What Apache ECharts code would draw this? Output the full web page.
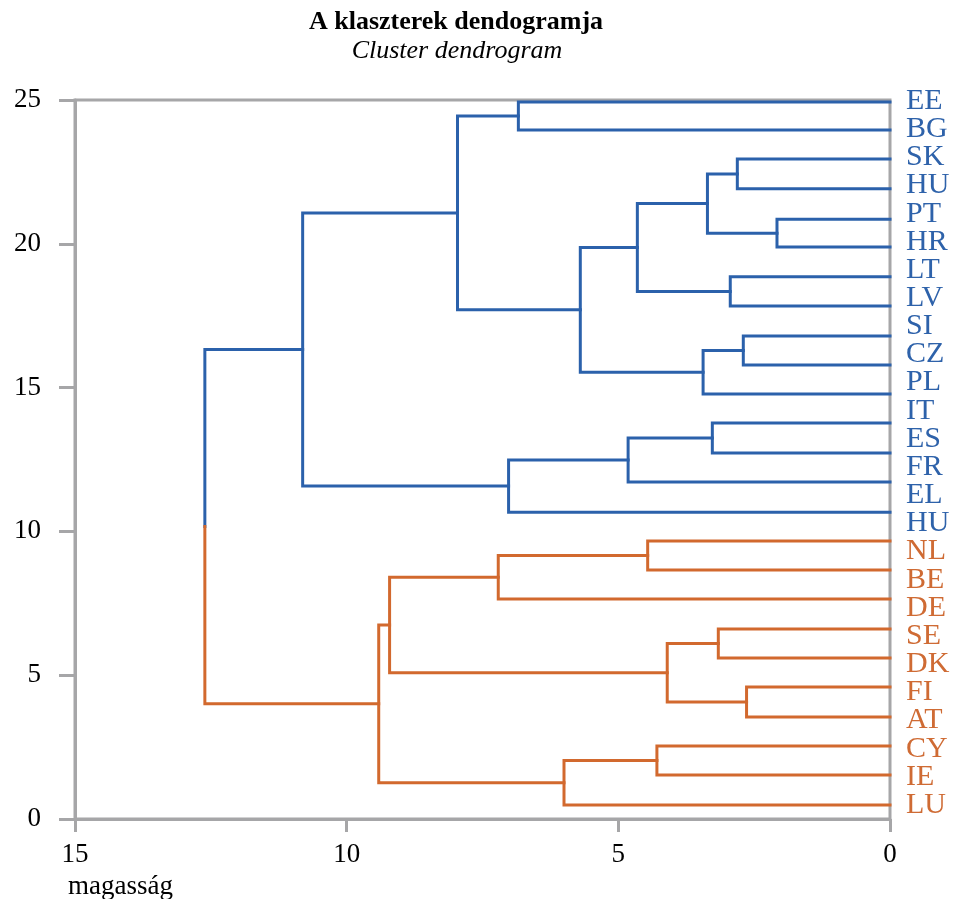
<!DOCTYPE html>
<html>
<head>
<meta charset="utf-8">
<script src="https://cdn.jsdelivr.net/npm/echarts@6/dist/echarts.min.js"></script>
<style>
html,body{margin:0;padding:0;background:#fff;}
#chart{width:955px;height:899px;}
</style>
</head>
<body>
<div id="chart"></div>
<script>
// ---- data ----
const leafLabels = ['EE','BG','SK','HU','PT','HR','LT','LV','SI','CZ','PL','IT','ES','FR','EL','HU','NL','BE','DE','SE','DK','FI','AT','CY','IE','LU'];
const labelGroups = [0,0,0,0,0,0,0,0,0,0,0,0,0,0,0,0,1,1,1,1,1,1,1,1,1,1];
// vertical positions of the 25 drawn leaf lines
const leafY = [24.93,23.96,22.95,21.91,20.85,19.89,18.85,17.84,16.79,15.79,14.78,13.77,12.73,11.72,10.67,
               9.67,8.66,7.65,6.61,5.60,4.59,3.55,2.54,1.53,0.49];
// merges: [childA, childB, height]; node ids: leaves 0..24, merges 25..
const merges = [
  [0,1,6.84],    //25
  [2,3,2.81],    //26
  [4,5,2.08],    //27
  [26,27,3.36],  //28
  [6,7,2.94],    //29
  [28,29,4.65],  //30
  [8,9,2.70],    //31
  [31,10,3.44],  //32
  [30,32,5.70],  //33
  [25,33,7.96],  //34
  [11,12,3.27],  //35
  [35,13,4.82],  //36
  [36,14,7.02],  //37
  [34,37,10.81], //38
  [15,16,4.46],  //39
  [39,17,7.21],  //40
  [18,19,3.16],  //41
  [20,21,2.64],  //42
  [41,42,4.10],  //43
  [40,43,9.21],  //44
  [22,23,4.29],  //45
  [45,24,6.00],  //46
  [44,46,9.41],  //47
  [38,47,12.61]  //48 root
];
const mergeGroups = [0,0,0,0,0,0,0,0,0,0,0,0,0,0,1,1,1,1,1,1,1,1,1,-1];
const xTicks = [0,5,10,15];
const yTicks = [0,5,10,15,20,25];

// ---- styles ----
const COLORS = ['#2b61ab','#d2692e'];
const TEXT_COLORS = ['#2e62aa','#cf6b34'];
const GRAY = '#a6a6a8';
const FONT = '"Liberation Serif","Times New Roman",serif';

// ---- build dendrogram ----
const nodes = leafY.map(y => ({h:0, y:y}));
merges.forEach(m => nodes.push({h:m[2], y:(nodes[m[0]].y + nodes[m[1]].y)/2}));

function lineSeries(data, color){
  return {
    type:'line', xAxisIndex:0, yAxisIndex:0, data:data,
    showSymbol:false, symbol:'none', animation:false, silent:true,
    lineStyle:{color:color, width:3, join:'miter', cap:'square'}
  };
}
const series = [];
merges.forEach((m, i) => {
  const a = nodes[m[0]], b = nodes[m[1]], h = m[2];
  const g = mergeGroups[i];
  if (g >= 0) {
    series.push(lineSeries([[a.h,a.y],[h,a.y],[h,b.y],[b.h,b.y]], COLORS[g]));
  } else {
    const split = (leafY[14] + leafY[15]) / 2;
    series.push(lineSeries([[a.h,a.y],[h,a.y],[h,split]], COLORS[0]));
    series.push(lineSeries([[h,split],[h,b.y],[b.h,b.y]], COLORS[1]));
  }
});

const chart = echarts.init(document.getElementById('chart'), null, {renderer:'canvas'});
chart.setOption({
  animation:false,
  backgroundColor:'#ffffff',
  title:[
    {text:'A klaszterek dendogramja', left:451, top:4, textAlign:'center',
     textStyle:{fontFamily:FONT, fontSize:26, fontWeight:'bold', color:'#000'}},
    {text:'Cluster dendrogram', left:452, top:33, textAlign:'center',
     textStyle:{fontFamily:FONT, fontSize:26, fontStyle:'italic', fontWeight:'normal', color:'#000'}},
    {text:'magasság', left:63, top:868,
     textStyle:{fontFamily:FONT, fontSize:27, fontWeight:'normal', color:'#000'}}
  ],
  grid:[
    {left:75, right:65, top:100, bottom:80, show:true, borderColor:GRAY, borderWidth:3, containLabel:false},
    {left:75, right:65, top:101, bottom:94, show:false, containLabel:false}
  ],
  xAxis:[
    {type:'value', gridIndex:0, inverse:true, min:0, max:15, interval:5, position:'bottom',
     axisLine:{show:true, onZero:false, lineStyle:{color:GRAY, width:3}},
     axisTick:{show:true, inside:false, length:13, lineStyle:{color:GRAY, width:3}},
     splitLine:{show:false},
     axisLabel:{fontFamily:FONT, fontSize:27, color:'#000', margin:22,
       formatter:v => xTicks.indexOf(v) >= 0 ? String(v) : ''}},
    {type:'value', gridIndex:1, show:false, min:0, max:1}
  ],
  yAxis:[
    {type:'value', gridIndex:0, min:0, max:25, interval:5, position:'left',
     axisLine:{show:true, onZero:false, lineStyle:{color:GRAY, width:3}},
     axisTick:{show:true, inside:false, length:16, lineStyle:{color:GRAY, width:3}},
     splitLine:{show:false},
     axisLabel:{fontFamily:FONT, fontSize:27, color:'#000', margin:34,
       formatter:v => yTicks.indexOf(v) >= 0 ? String(v) : ''}},
    {type:'category', gridIndex:1, position:'right', inverse:true, boundaryGap:false,
     data:leafLabels.map((l, i) => ({value:l, textStyle:{color:TEXT_COLORS[labelGroups[i]]}})),
     axisLine:{show:false}, axisTick:{show:false}, splitLine:{show:false},
     axisLabel:{interval:0, fontFamily:FONT, fontSize:30, margin:16, color:'#2e62aa'}}
  ],
  series:series
});
</script>
</body>
</html>
